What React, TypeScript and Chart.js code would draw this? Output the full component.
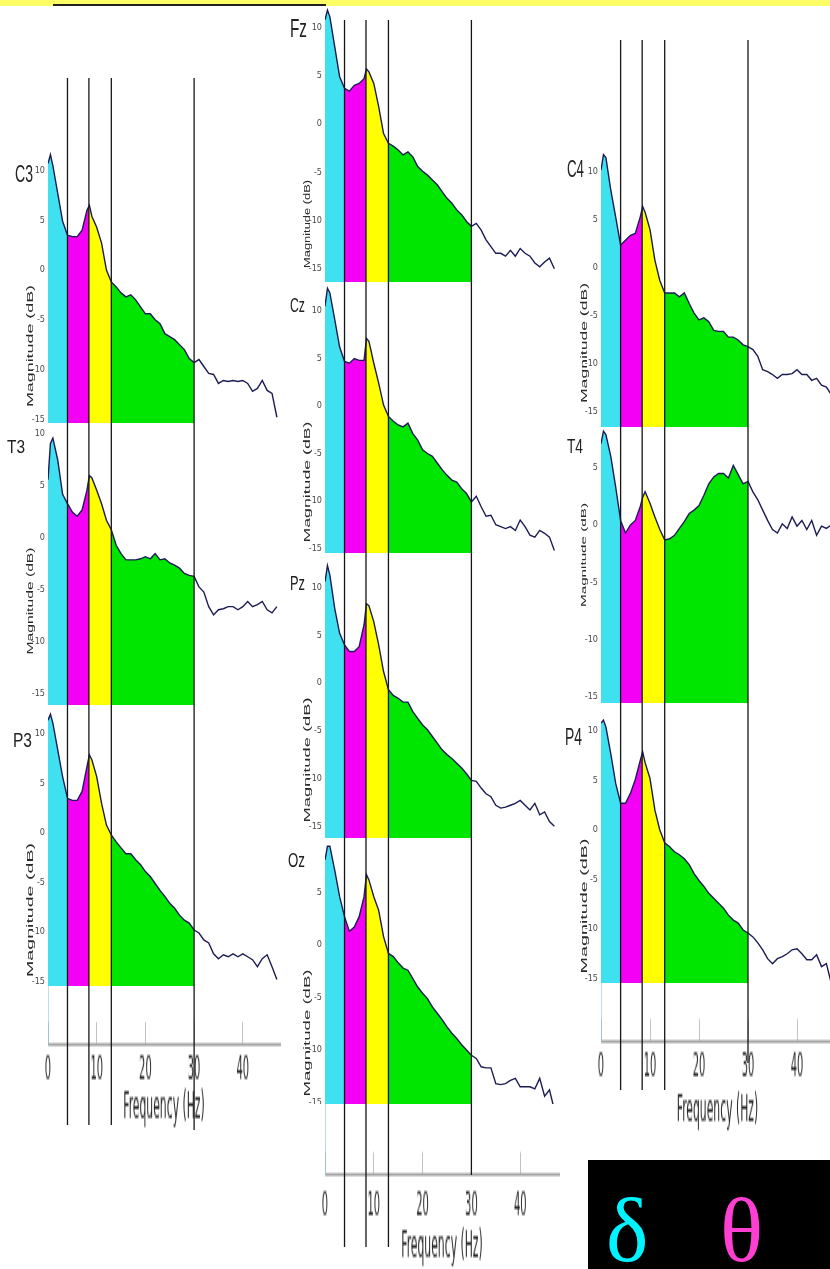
import React, { useEffect, useRef } from "react";
import { Chart, registerables } from "chart.js";

Chart.register(...registerables);

// ---------- data ----------
const FREQS = [0, 0.5, 1, 2, 3, 4, 5, 6, 7, 8, 8.5, 9, 10, 11, 12, 13, 14, 15, 16, 17, 18, 19, 20, 21, 22, 23, 24, 25, 26, 27, 28, 29, 30, 31, 32, 33, 34, 35, 36, 37, 38, 39, 40, 41, 42, 43, 44, 45, 46, 47];
const BAND_EDGES = [0, 4, 8.4, 13, 30];
const BAND_NAMES = ["delta", "theta", "alpha", "beta"];
const X_TICKS = [0, 10, 20, 30, 40];
const Y_TICKS = [-15, -10, -5, 0, 5, 10];

const C3 = [10.7, 11.6, 10.5, 7.7, 4.9, 3.5, 3.35, 3.35, 4.0, 6.0, 6.5, 5.4, 4.3, 2.7, 0.0, -1.2, -1.7, -2.3, -2.7, -2.5, -3.0, -3.7, -4.4, -4.4, -5.0, -5.4, -6.4, -6.7, -7.0, -7.5, -8.0, -8.9, -9.3, -9.0, -9.7, -10.4, -10.5, -11.4, -11.1, -11.2, -11.1, -11.2, -11.1, -11.4, -12.2, -11.9, -11.1, -12.1, -12.4, -14.8];
const T3 = [5.6, 9.1, 9.6, 7.5, 4.2, 3.3, 2.5, 2.1, 2.7, 4.6, 6.0, 5.8, 4.6, 3.3, 1.7, 0.8, -0.7, -1.5, -2.1, -2.1, -2.1, -2.0, -1.8, -2.0, -1.5, -2.1, -2.0, -2.4, -2.6, -2.9, -3.4, -3.6, -3.7, -4.7, -5.2, -6.6, -7.4, -6.9, -6.8, -6.6, -6.6, -6.9, -6.6, -6.1, -6.6, -6.4, -6.1, -6.9, -7.2, -6.6];
const P3 = [11.4, 12.0, 11.1, 8.4, 5.7, 3.5, 3.3, 3.3, 4.2, 6.7, 7.9, 7.4, 5.7, 3.0, 0.8, -0.2, -0.9, -1.5, -2.1, -2.1, -2.7, -3.2, -3.9, -4.4, -5.1, -5.8, -6.4, -7.1, -7.6, -8.3, -8.8, -9.1, -9.8, -10.1, -10.8, -11.1, -12.2, -12.7, -12.3, -12.5, -12.2, -12.5, -12.2, -12.5, -12.8, -13.5, -12.7, -12.3, -13.5, -14.8];
const FZ = [10.8, 11.8, 11.1, 8.0, 4.9, 3.7, 3.4, 4.0, 4.2, 4.7, 5.7, 5.4, 4.2, 1.8, -1.0, -2.0, -2.3, -2.7, -3.2, -2.9, -3.4, -4.4, -4.9, -5.3, -5.8, -6.3, -7.0, -7.7, -8.2, -8.9, -9.4, -10.1, -10.6, -10.3, -11.0, -12.0, -12.7, -13.4, -13.4, -13.7, -13.1, -13.7, -12.9, -13.4, -13.7, -14.4, -14.8, -14.3, -13.9, -15.0];
const CZ = [10.5, 12.4, 11.9, 9.1, 6.2, 4.7, 4.5, 5.0, 4.8, 4.8, 7.1, 6.8, 4.5, 2.4, 0.1, -1.1, -1.6, -2.0, -2.2, -1.8, -2.9, -3.6, -4.6, -5.0, -5.3, -6.0, -6.7, -7.3, -7.8, -8.0, -8.7, -9.2, -10.1, -9.5, -10.6, -11.6, -11.5, -12.5, -12.7, -12.9, -12.7, -13.1, -12.0, -12.7, -13.6, -13.8, -13.1, -13.4, -13.8, -15.2];
const PZ = [10.6, 12.3, 11.3, 7.8, 5.2, 4.0, 3.3, 3.3, 3.8, 6.1, 8.3, 8.1, 6.4, 4.0, 1.2, -0.7, -1.3, -1.6, -2.0, -2.0, -3.0, -3.7, -4.4, -4.9, -5.6, -6.3, -7.0, -7.5, -7.9, -8.4, -8.9, -9.5, -10.2, -10.3, -11.0, -11.6, -11.9, -12.8, -13.1, -13.0, -12.8, -12.6, -12.3, -12.8, -13.3, -12.6, -13.8, -13.5, -14.5, -15.0];
const OZ = [8.1, 9.4, 9.4, 7.1, 4.6, 2.7, 1.3, 1.7, 2.7, 4.6, 6.7, 6.2, 4.6, 3.3, 0.8, -0.8, -1.1, -1.7, -2.2, -2.4, -3.2, -4.0, -4.6, -5.1, -5.9, -6.5, -7.1, -7.8, -8.4, -8.9, -9.5, -10.0, -10.5, -10.8, -11.6, -11.7, -11.7, -13.2, -13.3, -13.2, -12.9, -12.7, -13.5, -13.5, -13.5, -13.7, -12.7, -14.4, -13.8, -15.7];
const C4 = [10.2, 11.8, 11.5, 8.1, 5.3, 2.4, 2.9, 3.4, 3.6, 5.3, 6.4, 5.8, 4.0, 0.8, -1.3, -2.6, -2.6, -2.6, -3.0, -2.6, -3.7, -4.7, -5.4, -5.2, -5.6, -6.5, -6.6, -6.6, -7.2, -7.2, -7.5, -8.0, -8.2, -8.5, -9.2, -10.6, -10.8, -11.1, -11.5, -11.1, -11.1, -11.0, -10.6, -11.1, -11.1, -11.7, -11.5, -12.2, -12.4, -13.2];
const T4 = [7.1, 8.2, 7.9, 6.0, 3.3, 0.4, -0.7, 0.0, 0.4, 1.6, 2.4, 2.9, 1.9, 0.7, -0.4, -1.3, -1.2, -0.9, -0.3, 0.3, 1.0, 1.3, 1.7, 2.6, 3.6, 4.2, 4.5, 4.5, 4.1, 5.2, 4.4, 3.6, 3.8, 2.9, 2.2, 1.3, 0.4, -0.4, -0.7, 0.1, -0.3, 0.7, -0.1, 0.4, -0.4, 0.4, -0.9, -0.1, -0.3, 0.0];
const P4 = [10.8, 11.1, 10.4, 7.7, 4.7, 2.7, 2.7, 3.7, 5.1, 7.0, 7.9, 6.8, 5.2, 2.0, 0.0, -1.3, -1.7, -2.2, -2.5, -2.9, -3.5, -4.4, -5.1, -5.7, -6.4, -6.9, -7.4, -7.9, -8.6, -9.1, -9.4, -10.1, -10.4, -10.8, -11.4, -12.1, -13.0, -13.5, -13.0, -12.8, -12.5, -12.1, -12.0, -12.5, -13.1, -13.1, -12.6, -13.8, -13.5, -15.5];

// ---------- styles / layout ----------
const BAND_COLORS = ["#3fe0f0", "#f400f4", "#ffff00", "#00e600"];
const LINE_COLOR = "#1c1c55";
const NARROW = "'Liberation Sans Narrow', 'Arial Narrow', 'DejaVu Sans Condensed', 'Liberation Sans', sans-serif";
const SANS = "'Liberation Sans', Arial, sans-serif";
const AXIS_W = 22;
const K = 3; // vertical stretch of frequency axis strip
const AX_PAD = 12;
const TICK_IN = 7;
const TICK_FONT = 11;
const TITLE_FONT = 12;

type ColKey = "left" | "middle" | "right";
const COLUMNS: Record<ColKey, any> = {
  left: { x0: 48, pxPerHz: 4.87, rightPx: 280, lineTop: 78, lineBottom: 1125, line30Bottom: 1130, axis: { top: 986, axisY: 1043, labelY: 1070, titleY: 1108 } },
  middle: { x0: 325, pxPerHz: 4.88, rightPx: 559, lineTop: 20, lineBottom: 1247, line30Bottom: 1175, axis: { top: 1104, axisY: 1173, labelY: 1205, titleY: 1248 } },
  right: { x0: 601, pxPerHz: 4.9, rightPx: 834, lineTop: 40, lineBottom: 1090, line30Bottom: 1063, axis: { top: 983, axisY: 1040, labelY: 1068, titleY: 1113 } },
};

type PanelSpec = {
  name: string; values: number[]; col: ColKey; zeroY: number; pxPerDb: number; top: number; bottom: number;
  label: number[]; title: number[];
};

const PANELS: PanelSpec[] = [
  { name: "C3", values: C3, col: "left", zeroY: 270, pxPerDb: 9.95, top: 143, bottom: 423, label: [15, 182, 18, 17], title: [29, 346, 122, 9.5] },
  { name: "T3", values: T3, col: "left", zeroY: 538, pxPerDb: 10.4, top: 428, bottom: 705, label: [7, 453, 18, 13], title: [29, 601, 107, 9.5] },
  { name: "P3", values: P3, col: "left", zeroY: 833, pxPerDb: 9.9, top: 712, bottom: 986, label: [13, 747, 19, 15], title: [29, 910, 134, 9.5] },
  { name: "Fz", values: FZ, col: "middle", zeroY: 124, pxPerDb: 9.65, top: 4, bottom: 282, label: [290, 37, 17, 19], title: [306, 224, 88, 9.5] },
  { name: "Cz", values: CZ, col: "middle", zeroY: 406, pxPerDb: 9.5, top: 284, bottom: 553, label: [290, 312, 15, 14], title: [306, 482, 121, 9.5] },
  { name: "Pz", values: PZ, col: "middle", zeroY: 683, pxPerDb: 9.55, top: 562, bottom: 838, label: [290, 590, 15, 15], title: [306, 760, 125, 9.5] },
  { name: "Oz", values: OZ, col: "middle", zeroY: 945, pxPerDb: 10.5, top: 844, bottom: 1104, label: [288, 867, 17, 15], title: [306, 1033, 127, 9.5] },
  { name: "C4", values: C4, col: "right", zeroY: 268, pxPerDb: 9.6, top: 148, bottom: 427, label: [567, 177, 17, 17], title: [583, 343, 120, 9.5] },
  { name: "T4", values: T4, col: "right", zeroY: 525, pxPerDb: 11.45, top: 428, bottom: 703, label: [567, 453, 16, 15], title: [583, 555, 104, 8] },
  { name: "P4", values: P4, col: "right", zeroY: 830, pxPerDb: 9.9, top: 712, bottom: 983, label: [565, 745, 17, 17], title: [583, 906, 135, 9.5] },
];

function bandFill(ctx: any) {
  const chart = ctx.chart;
  const area = chart.chartArea;
  if (!area) return "rgba(0,0,0,0)";
  const xs = chart.scales.x;
  const w = area.right - area.left;
  const frac = (v: number) => Math.min(1, Math.max(0, (xs.getPixelForValue(v) - area.left) / w));
  const g = chart.ctx.createLinearGradient(area.left, 0, area.right, 0);
  for (let i = 0; i < BAND_NAMES.length; i++) {
    g.addColorStop(frac(BAND_EDGES[i]), BAND_COLORS[i]);
    g.addColorStop(frac(BAND_EDGES[i + 1]), BAND_COLORS[i]);
  }
  const end = frac(BAND_EDGES[BAND_EDGES.length - 1]);
  g.addColorStop(Math.min(1, end + 0.0005), "rgba(255,255,255,0)");
  g.addColorStop(1, "rgba(255,255,255,0)");
  return g;
}

function Panel({ p }: { p: PanelSpec }) {
  const ref = useRef<HTMLCanvasElement>(null);
  const col = COLUMNS[p.col];
  const width = col.rightPx - col.x0 + AXIS_W;
  const height = p.bottom - p.top;
  useEffect(() => {
    const yMax = (p.zeroY - p.top) / p.pxPerDb;
    const yMin = (p.zeroY - p.bottom) / p.pxPerDb;
    const xMax = (col.rightPx - col.x0) / col.pxPerHz;
    const chart = new Chart(ref.current!, {
      type: "line",
      data: {
        datasets: [
          {
            label: p.name,
            data: FREQS.map((f, i) => ({ x: f, y: p.values[i] })),
            borderColor: LINE_COLOR,
            borderWidth: 1.4,
            pointRadius: 0,
            tension: 0,
            fill: "start",
            backgroundColor: bandFill as any,
          },
        ],
      },
      options: {
        responsive: false,
        animation: false,
        events: [],
        layout: { padding: 0 },
        plugins: { legend: { display: false }, tooltip: { enabled: false } },
        scales: {
          x: { type: "linear", min: 0, max: xMax, display: false },
          y: {
            type: "linear",
            min: yMin,
            max: yMax,
            afterFit: (s: any) => { s.width = AXIS_W; s.paddingTop = 0; s.paddingBottom = 0; },
            afterBuildTicks: (s: any) => { s.ticks = Y_TICKS.filter((v) => v >= yMin && v <= yMax).map((v) => ({ value: v })); },
            grid: { display: false, drawTicks: false },
            border: { display: false },
            ticks: { padding: 3, color: "#4a4a4a", font: { family: NARROW, size: 9 } },
          },
        },
      } as any,
    });
    return () => chart.destroy();
  }, []);
  return <canvas ref={ref} width={width} height={height} style={{ position: "absolute", left: col.x0 - AXIS_W, top: p.top }} />;
}

function BandLines({ colKey }: { colKey: ColKey }) {
  const ref = useRef<HTMLCanvasElement>(null);
  const col = COLUMNS[colKey];
  const width = col.rightPx - col.x0;
  const bottom = Math.max(col.lineBottom, col.line30Bottom);
  const height = bottom - col.lineTop;
  useEffect(() => {
    const xMax = (col.rightPx - col.x0) / col.pxPerHz;
    const edges = BAND_EDGES.slice(1);
    const chart = new Chart(ref.current!, {
      type: "line",
      data: {
        datasets: edges.map((e, i) => ({
          label: "edge " + e,
          data: [
            { x: e, y: col.lineTop },
            { x: e, y: i === edges.length - 1 ? col.line30Bottom : col.lineBottom },
          ],
          borderColor: "#161616",
          borderWidth: 1.3,
          pointRadius: 0,
          fill: false,
        })),
      },
      options: {
        responsive: false,
        animation: false,
        events: [],
        layout: { padding: 0 },
        plugins: { legend: { display: false }, tooltip: { enabled: false } },
        scales: {
          x: { type: "linear", min: 0, max: xMax, display: false },
          y: { type: "linear", min: col.lineTop, max: bottom, reverse: true, display: false },
        },
      } as any,
    });
    return () => chart.destroy();
  }, []);
  return <canvas ref={ref} width={width} height={height} style={{ position: "absolute", left: col.x0, top: col.lineTop }} />;
}

function FreqAxis({ colKey }: { colKey: ColKey }) {
  const ref = useRef<HTMLCanvasElement>(null);
  const col = COLUMNS[colKey];
  const a = col.axis;
  const axisC = (a.axisY - a.top) / K;
  const titleC = (a.titleY - a.top) / K;
  const H = Math.ceil(titleC + TITLE_FONT * 0.6 + 0.3);
  const titlePadBottom = H - titleC - TITLE_FONT * 0.6;
  const labelPad = (a.labelY - a.axisY) / K - TICK_FONT * 0.6 + TICK_IN;
  const W = col.rightPx - col.x0 + 2 * AX_PAD;
  useEffect(() => {
    const xMax = (col.rightPx - col.x0) / col.pxPerHz;
    const chart = new Chart(ref.current!, {
      type: "line",
      data: { datasets: [] },
      options: {
        responsive: false,
        animation: false,
        events: [],
        layout: { padding: { left: AX_PAD, right: AX_PAD, top: 0, bottom: 0 } },
        plugins: { legend: { display: false }, tooltip: { enabled: false } },
        scales: {
          x: {
            type: "linear",
            position: "bottom",
            min: 0,
            max: xMax,
            afterFit: (s: any) => { s.height = H - axisC; s.paddingLeft = 0; s.paddingRight = 0; },
            afterBuildTicks: (s: any) => { s.ticks = X_TICKS.map((v) => ({ value: v })); },
            ticks: { autoSkip: false, maxRotation: 0, minRotation: 0, padding: labelPad, color: "#2a2a2a", font: { family: NARROW, size: TICK_FONT } },
            grid: { display: true, drawOnChartArea: false, drawTicks: true, tickLength: -TICK_IN, color: "rgba(120,120,120,0.45)", lineWidth: 1 },
            border: { display: true, color: "#a4a4a4", width: 1 },
            title: { display: true, text: "Frequency (Hz)", color: "#2a2a2a", font: { family: NARROW, size: TITLE_FONT }, padding: { top: 0, bottom: titlePadBottom } },
          },
          y: {
            type: "linear",
            position: "left",
            min: 0,
            max: 1,
            ticks: { display: false },
            grid: { display: false, drawTicks: false },
            border: { display: true, color: "rgba(140,200,215,0.6)", width: 1 },
            afterFit: (s: any) => { s.width = 0; s.paddingTop = 0; s.paddingBottom = 0; },
          },
        },
      } as any,
    });
    return () => chart.destroy();
  }, []);
  return (
    <canvas
      ref={ref}
      width={W}
      height={H}
      style={{ position: "absolute", left: col.x0 - AX_PAD, top: a.top, transform: `scaleY(${K})`, transformOrigin: "0 0" }}
    />
  );
}

export default function App() {
  const cols: ColKey[] = ["left", "middle", "right"];
  return (
    <div style={{ position: "absolute", left: 0, top: 0, width: 830, height: 1269, overflow: "hidden", background: "#ffffff" }}>
      <div style={{ position: "absolute", left: 0, top: 0, width: 830, height: 6, background: "#fdfd66" }} />
      <div style={{ position: "absolute", left: 53, top: 4, width: 273, height: 2, background: "#222" }} />
      {PANELS.map((p) => (
        <Panel key={p.name} p={p} />
      ))}
      {cols.map((c) => (
        <FreqAxis key={"ax" + c} colKey={c} />
      ))}
      {cols.map((c) => (
        <BandLines key={"bl" + c} colKey={c} />
      ))}
      <div style={{ position: "absolute", left: 588, top: 1160, width: 242, height: 109, background: "#000" }} />
      <svg width={830} height={1269} style={{ position: "absolute", left: 0, top: 0, pointerEvents: "none" }}>
        {PANELS.map((p) => (
          <text
            key={"lb" + p.name}
            x={p.label[0]}
            y={p.label[1]}
            fontFamily={SANS}
            fontSize={p.label[3] / 0.716}
            textLength={p.label[2]}
            lengthAdjust="spacingAndGlyphs"
            fill="#222"
          >
            {p.name}
          </text>
        ))}
        {PANELS.map((p) => (
          <text
            key={"tt" + p.name}
            transform={`translate(${p.title[0]},${p.title[1]}) rotate(-90)`}
            textAnchor="middle"
            dominantBaseline="central"
            fontFamily={SANS}
            fontSize={p.title[3]}
            textLength={p.title[2]}
            lengthAdjust="spacingAndGlyphs"
            fill="#2a2a2a"
          >
            Magnitude (dB)
          </text>
        ))}
        <text x={606} y={1261} fontFamily="'Liberation Serif', 'DejaVu Serif', serif" fontSize={90} fill="#00f4ff">δ</text>
        <text x={720} y={1261} fontFamily="'Liberation Serif', 'DejaVu Serif', serif" fontSize={90} fill="#ff3fd2">θ</text>
      </svg>
    </div>
  );
}
